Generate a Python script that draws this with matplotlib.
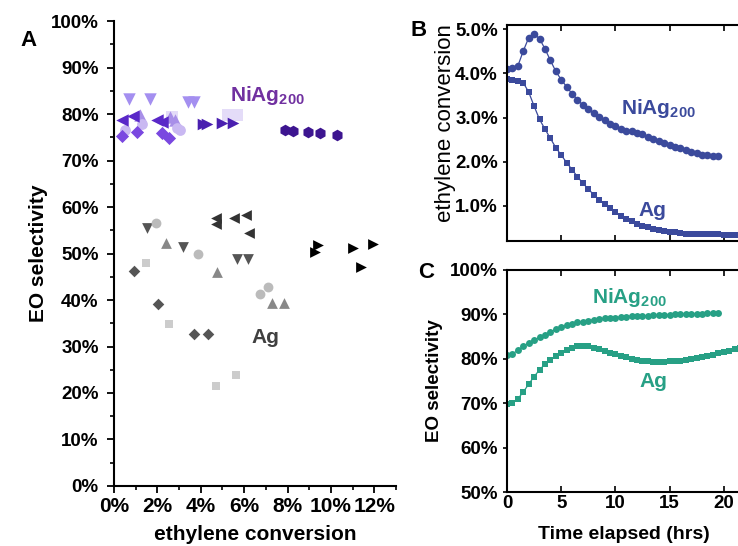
import numpy as np
import matplotlib
matplotlib.use("Agg")
import matplotlib.pyplot as plt
from matplotlib.ticker import MultipleLocator, FuncFormatter

plt.rcParams.update({
    'font.family': ['Liberation Sans', 'DejaVu Sans'],
    'font.weight': 'bold',
    'mathtext.fontset': 'custom',
    'mathtext.rm': 'Liberation Sans:bold',
    'mathtext.bf': 'Liberation Sans:bold',
    'axes.linewidth': 1.5,
})

# ── Panel A: selectivity vs conversion (fractions of 1) ─────────────────────
# NiAg200 catalysts
ni_tri_down_x = [0.0069, 0.0166, 0.0341, 0.0369]
ni_tri_down_y = [0.832, 0.832, 0.826, 0.826]
ni_tri_left_x = [0.0037, 0.0088, 0.0198, 0.0221]
ni_tri_left_y = [0.787, 0.796, 0.787, 0.783]
ni_tri_up_x = [0.0120, 0.0258, 0.0281]
ni_tri_up_y = [0.798, 0.794, 0.787]
ni_circle_x = [0.0051, 0.0129, 0.0290, 0.0304]
ni_circle_y = [0.766, 0.778, 0.770, 0.766]
ni_diamond_x = [0.0037, 0.0106, 0.0221, 0.0253]
ni_diamond_y = [0.753, 0.761, 0.759, 0.748]
ni_square_x = [0.0267, 0.0525, 0.0567]
ni_square_y = [0.794, 0.798, 0.798]
ni_tri_right_x = [0.0410, 0.0429, 0.0498, 0.0548]
ni_tri_right_y = [0.778, 0.778, 0.781, 0.781]
ni_hex_x = [0.0788, 0.0825, 0.0894, 0.0949, 0.1028]
ni_hex_y = [0.766, 0.763, 0.761, 0.759, 0.755]

# Ag catalysts
ag_diamond_x = [0.0092, 0.0203, 0.0369, 0.0433]
ag_diamond_y = [0.462, 0.391, 0.327, 0.327]
ag_square_x = [0.0147, 0.0253, 0.0470, 0.0562]
ag_square_y = [0.480, 0.348, 0.215, 0.239]
ag_tri_down_x = [0.0152, 0.0318, 0.0567, 0.0618]
ag_tri_down_y = [0.555, 0.514, 0.488, 0.488]
ag_circle_x = [0.0194, 0.0387, 0.0673, 0.0710]
ag_circle_y = [0.566, 0.499, 0.413, 0.428]
ag_tri_up_x = [0.0240, 0.0475, 0.0728, 0.0783]
ag_tri_up_y = [0.523, 0.460, 0.394, 0.394]
ag_tri_left_x = [0.0470, 0.0470, 0.0553, 0.0608, 0.0622]
ag_tri_left_y = [0.576, 0.563, 0.576, 0.583, 0.544]
ag_tri_right_x = [0.0926, 0.0940, 0.1101, 0.1194, 0.1138]
ag_tri_right_y = [0.503, 0.518, 0.512, 0.520, 0.471]

# ── Panel B / C: time on stream (hrs) ───────────────────────────────────────
t_ni = np.arange(0, 20.0, 0.5)
t_ag = np.arange(0, 22.0, 0.5)

conv_ni = [4.11, 4.13, 4.17, 4.51, 4.81, 4.90, 4.79, 4.56, 4.30, 4.05,
           3.86, 3.70, 3.54, 3.41, 3.28, 3.19, 3.10, 3.01, 2.94, 2.86,
           2.80, 2.75, 2.69, 2.70, 2.66, 2.62, 2.57, 2.51, 2.46, 2.42,
           2.38, 2.34, 2.30, 2.26, 2.23, 2.19, 2.16, 2.14, 2.12, 2.12]
conv_ag = [3.87, 3.85, 3.83, 3.79, 3.58, 3.26, 2.96, 2.74, 2.53, 2.32,
           2.15, 1.98, 1.82, 1.66, 1.51, 1.38, 1.25, 1.14, 1.03, 0.94,
           0.85, 0.77, 0.70, 0.65, 0.58, 0.55, 0.51, 0.47, 0.45, 0.43,
           0.41, 0.40, 0.38, 0.37, 0.37, 0.36, 0.36, 0.35, 0.35, 0.35,
           0.34, 0.34, 0.34, 0.34]

sel_ni = [80.8, 81.1, 81.9, 82.8, 83.6, 84.2, 84.8, 85.4, 86.0, 86.6,
          87.1, 87.5, 87.9, 88.2, 88.4, 88.6, 88.8, 88.9, 89.1, 89.2,
          89.3, 89.4, 89.5, 89.6, 89.6, 89.7, 89.7, 89.8, 89.8, 89.9,
          89.9, 90.0, 90.0, 90.1, 90.1, 90.2, 90.2, 90.3, 90.3, 90.4]
sel_ag = [69.9, 70.1, 71.0, 72.5, 74.3, 76.0, 77.5, 78.8, 79.8, 80.7,
          81.4, 82.0, 82.5, 82.8, 82.9, 82.8, 82.5, 82.2, 81.8, 81.4,
          81.0, 80.6, 80.3, 80.0, 79.8, 79.6, 79.4, 79.3, 79.2, 79.3,
          79.4, 79.5, 79.6, 79.7, 79.9, 80.2, 80.4, 80.6, 80.9, 81.2,
          81.5, 81.8, 82.2, 82.5]

NAVY = '#3b4a9c'
TEAL = '#27a085'
PURPLE = '#7030a0'
DARK = '#404040'

fig = plt.figure(figsize=(7.38, 5.46), dpi=100)

# ============================================================================
# Panel A
# ============================================================================
axA = fig.add_axes([0.1545, 0.1099, 0.3821, 0.8516])

sets = [
    (ni_square_x, ni_square_y, 's', '#e4dcf8', 70),
    (ni_tri_down_x, ni_tri_down_y, 'v', '#a48ff0', 80),
    (ni_tri_up_x, ni_tri_up_y, '^', '#a88fe8', 80),
    (ni_circle_x, ni_circle_y, 'o', '#c9b8f2', 60),
    (ni_tri_left_x, ni_tri_left_y, '<', '#5a28c8', 80),
    (ni_diamond_x, ni_diamond_y, 'D', '#7a48e0', 45),
    (ni_tri_right_x, ni_tri_right_y, '>', '#4a1fb0', 70),
    (ni_hex_x, ni_hex_y, 'h', '#3d1590', 70),
    (ag_diamond_x, ag_diamond_y, 'D', '#555555', 35),
    (ag_square_x, ag_square_y, 's', '#cccccc', 40),
    (ag_tri_down_x, ag_tri_down_y, 'v', '#555555', 60),
    (ag_circle_x, ag_circle_y, 'o', '#bbbbbb', 50),
    (ag_tri_up_x, ag_tri_up_y, '^', '#888888', 60),
    (ag_tri_left_x, ag_tri_left_y, '<', '#333333', 60),
    (ag_tri_right_x, ag_tri_right_y, '>', '#000000', 60),
]
for xs, ys, mk, col, sz in sets:
    axA.scatter(xs, ys, marker=mk, color=col, s=sz, linewidths=0, zorder=3)

axA.set_xlim(0, 0.13)
axA.set_ylim(0, 1.0)
axA.spines['top'].set_visible(False)
axA.spines['right'].set_visible(False)
axA.xaxis.set_major_locator(MultipleLocator(0.02))
axA.xaxis.set_minor_locator(MultipleLocator(0.01))
axA.yaxis.set_major_locator(MultipleLocator(0.1))
axA.yaxis.set_minor_locator(MultipleLocator(0.05))
pct0 = FuncFormatter(lambda v, p: f'{v * 100:.0f}%')
axA.xaxis.set_major_formatter(pct0)
axA.yaxis.set_major_formatter(pct0)
axA.tick_params(which='major', direction='out', length=5, width=1.3)
axA.tick_params(which='minor', direction='out', length=3, width=1.2)
axA.tick_params(axis='x', labelsize=15, pad=3)
axA.tick_params(axis='y', labelsize=13.5, pad=6)
axA.set_xlabel('ethylene conversion', fontsize=15, fontweight='bold')
axA.set_ylabel('EO selectivity', fontsize=15, fontweight='bold')
axA.xaxis.set_label_coords(0.5, -0.084)
axA.yaxis.set_label_coords(-0.235, 0.5)

axA.text(0.0535, 0.839, r'NiAg$_{200}$', color=PURPLE, fontsize=15,
         fontweight='bold', va='center', ha='left')
axA.text(0.0636, 0.320, 'Ag', color=DARK, fontsize=15,
         fontweight='bold', va='center', ha='left')

# ============================================================================
# Panel B
# ============================================================================
axB = fig.add_axes([0.687, 0.5586, 0.3157, 0.3956])
axB.plot(t_ni, conv_ni, '-o', color=NAVY, ms=5.5, lw=0.9, mew=0)
axB.plot(t_ag, conv_ag, '-s', color=NAVY, ms=4.8, lw=0.9, mew=0)
axB.set_xlim(0, 21.5)
axB.set_ylim(0.2, 5.1)
axB.xaxis.set_major_locator(MultipleLocator(5))
axB.yaxis.set_major_locator(MultipleLocator(1.0))
axB.yaxis.set_major_formatter(FuncFormatter(lambda v, p: f'{v:.1f}%'))
axB.tick_params(axis='x', direction='in', top=True, labelbottom=False,
                length=4, width=1.2)
axB.tick_params(axis='y', direction='out', length=3, width=1.2, labelsize=13.5)
axB.set_ylabel('ethylene conversion', fontsize=16, fontweight='normal')
axB.yaxis.set_label_coords(-0.22, 0.545)
axB.text(10.5, 3.2, r'NiAg$_{200}$', color=NAVY, fontsize=15,
         fontweight='bold', va='center', ha='left')
axB.text(12.1, 0.9, 'Ag', color=NAVY, fontsize=15,
         fontweight='bold', va='center', ha='left')

# ============================================================================
# Panel C
# ============================================================================
axC = fig.add_axes([0.687, 0.0989, 0.3157, 0.4066])
axC.plot(t_ni, np.array(sel_ni) / 100, '-o', color=TEAL, ms=5, lw=0.9, mew=0)
axC.plot(t_ag, np.array(sel_ag) / 100, '-s', color=TEAL, ms=4.5, lw=0.9, mew=0)
axC.set_xlim(0, 21.5)
axC.set_ylim(0.5, 1.0)
axC.xaxis.set_major_locator(MultipleLocator(5))
axC.yaxis.set_major_locator(MultipleLocator(0.1))
axC.yaxis.set_major_formatter(pct0)
axC.tick_params(axis='x', direction='in', top=True, length=4, width=1.2,
                labelsize=13.5, pad=2)
axC.tick_params(axis='y', direction='out', length=3, width=1.2, labelsize=13.5)
axC.set_xlabel('Time elapsed (hrs)', fontsize=14, fontweight='bold')
axC.set_ylabel('EO selectivity', fontsize=13.5, fontweight='bold')
axC.xaxis.set_label_coords(0.5, -0.153)
axC.yaxis.set_label_coords(-0.275, 0.5)
axC.text(7.8, 0.937, r'NiAg$_{200}$', color=TEAL, fontsize=15,
         fontweight='bold', va='center', ha='left')
axC.text(12.2, 0.748, 'Ag', color=TEAL, fontsize=15,
         fontweight='bold', va='center', ha='left')

# Panel letters
fig.text(20 / 738, 1 - 40 / 546, 'A', fontsize=16, fontweight='bold', va='center')
fig.text(410 / 738, 1 - 30 / 546, 'B', fontsize=16, fontweight='bold', va='center')
fig.text(418 / 738, 1 - 272 / 546, 'C', fontsize=16, fontweight='bold', va='center')

fig.savefig('out.png', dpi=100, facecolor='white')
